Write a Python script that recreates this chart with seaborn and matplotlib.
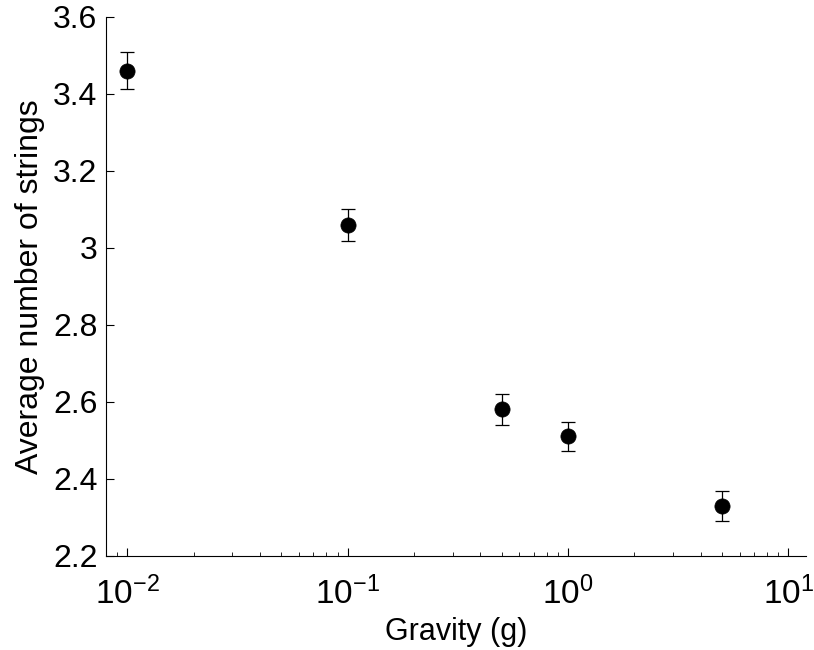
import matplotlib
matplotlib.use("Agg")
import matplotlib.pyplot as plt
import matplotlib.ticker as mticker
import numpy as np
import pandas as pd
import seaborn as sns

gravity = [0.01, 0.1, 0.5, 1.0, 5.0]
avg_strings = [3.46, 3.06, 2.58, 2.51, 2.33]
err = [0.048, 0.041, 0.040, 0.037, 0.039]

df = pd.DataFrame({"gravity": gravity, "strings": avg_strings, "err": err})

sns.set_theme(style="ticks")
plt.rcParams["font.family"] = ["Liberation Sans", "DejaVu Sans"]
plt.rcParams["mathtext.default"] = "regular"
plt.rcParams["xtick.direction"] = "in"
plt.rcParams["ytick.direction"] = "in"
plt.rcParams["text.color"] = "black"
plt.rcParams["axes.labelcolor"] = "black"

fig = plt.figure(figsize=(8.14, 6.5), dpi=100)
ax = fig.add_axes([0.130, 0.145, 0.860, 0.829])

ax.errorbar(df["gravity"], df["strings"], yerr=df["err"], fmt="none",
            ecolor="black", elinewidth=0.9, capsize=4.7, capthick=0.9, zorder=2)
sns.scatterplot(data=df, x="gravity", y="strings", ax=ax, s=120,
                color="black", edgecolor="black", linewidth=0.5, zorder=3)

ax.set_xscale("log")
ax.set_xlim(0.008, 12)
ax.set_ylim(2.2, 3.6)
ax.set_yticks(np.arange(2.2, 3.61, 0.2))
ax.yaxis.set_major_formatter(mticker.FuncFormatter(lambda v, p: "%g" % round(v, 2)))
ax.xaxis.set_major_locator(mticker.LogLocator(base=10, numticks=10))
ax.xaxis.set_major_formatter(mticker.FuncFormatter(
    lambda v, p: "$10^{%d}$" % int(round(np.log10(v)))))
ax.xaxis.set_minor_locator(mticker.LogLocator(base=10, subs=np.arange(2, 10), numticks=20))
ax.xaxis.set_minor_formatter(mticker.NullFormatter())

ax.tick_params(axis="y", which="major", labelsize=23, length=6, width=0.8,
               colors="black", pad=6)
ax.tick_params(axis="x", which="major", labelsize=24, length=6, width=0.8,
               colors="black", pad=15)
ax.tick_params(axis="x", which="minor", length=3, width=0.7)

for side in ["top", "right"]:
    ax.spines[side].set_visible(False)
for side in ["left", "bottom"]:
    ax.spines[side].set_color("black")
    ax.spines[side].set_linewidth(0.8)

ax.set_xlabel("Gravity (g)", fontsize=22, labelpad=4)
ax.set_ylabel("Average number of strings", fontsize=23, labelpad=6)

fig.savefig("out.png", dpi=100)
